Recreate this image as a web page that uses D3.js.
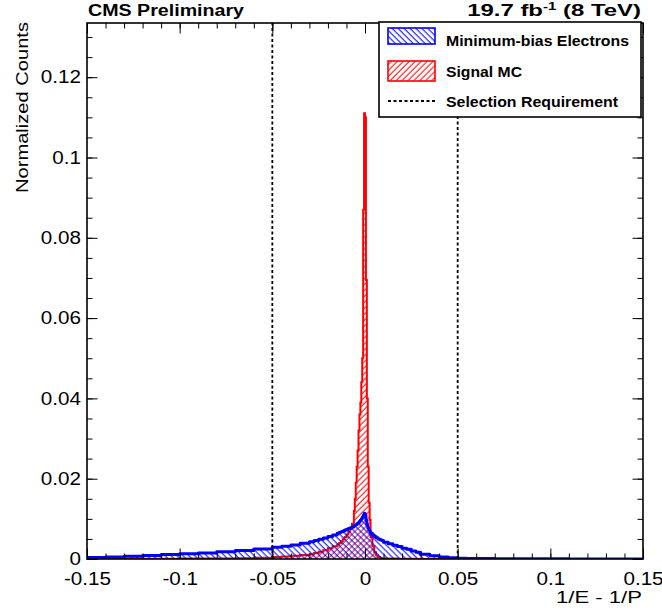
<!DOCTYPE html>
<html>
<head>
<meta charset="utf-8">
<script src="https://cdn.jsdelivr.net/npm/d3@7"></script>
<style>
  body { margin: 0; background: #fff; }
  text { font-family: "Liberation Sans", Arial, Helvetica, sans-serif; fill: #000; }
</style>
</head>
<body>
<svg id="chart" width="662" height="612"></svg>
<script>
// bin edges in 1/E - 1/P (finer bins near the peak)
var binEdges = [
  -0.15, -0.14, -0.13, -0.12, -0.11, -0.10, -0.09, -0.08, -0.07, -0.06,
  -0.05, -0.045, -0.04, -0.035,
  -0.03, -0.0275, -0.025, -0.0225, -0.02, -0.0175,
  -0.015, -0.014, -0.013, -0.012, -0.011, -0.010, -0.009, -0.008, -0.007,
  -0.006, -0.0055, -0.005, -0.0045, -0.004, -0.0035, -0.003, -0.0025, -0.002,
  -0.0015, -0.001, -0.0005, 0, 0.0005, 0.001, 0.0015, 0.002, 0.0025,
  0.003, 0.004, 0.005, 0.006, 0.007, 0.008, 0.009,
  0.010, 0.0125, 0.015, 0.0175, 0.020, 0.0225, 0.025, 0.0275,
  0.03, 0.035, 0.04, 0.045, 0.05, 0.055,
  0.06, 0.07, 0.08, 0.09, 0.10, 0.11, 0.12, 0.13, 0.14, 0.15
];

// Minimum-bias Electrons (normalized counts per bin)
var minBiasValues = [
  0.0004, 0.0005, 0.0007, 0.0009, 0.0011, 0.0013, 0.0015, 0.0018, 0.0021, 0.0025,
  0.0029, 0.0032, 0.0035, 0.0039,
  0.0043, 0.0046, 0.0049, 0.0052, 0.0056, 0.0060,
  0.0064, 0.0066, 0.0068, 0.0070, 0.0072, 0.0074, 0.0076, 0.0078, 0.0080,
  0.0083, 0.0084, 0.0085, 0.0087, 0.0089, 0.0091, 0.0094, 0.0097, 0.0100,
  0.0104, 0.0109, 0.0114, 0.0110, 0.0096, 0.0085, 0.0078, 0.0073, 0.0069,
  0.0064, 0.0060, 0.0056, 0.0053, 0.0050, 0.0048, 0.0046,
  0.0042, 0.0038, 0.0034, 0.0031, 0.0027, 0.0024, 0.0020, 0.0017,
  0.0012, 0.0008, 0.0005, 0.0003, 0.0002, 0.00015,
  0.0001, 0.00008, 0.00006, 0.00005, 0.00004, 0.00003, 0.00003, 0.00002, 0.00002
];

// Signal MC
var signalValues = [
  0.00005, 0.00005, 0.00006, 0.00007, 0.00008, 0.0001, 0.00012, 0.00015, 0.0002, 0.0003,
  0.0005, 0.0006, 0.0008, 0.0010,
  0.0012, 0.0015, 0.0018, 0.0022, 0.0027, 0.0032,
  0.0036, 0.0040, 0.0044, 0.0049, 0.0055, 0.0061, 0.0068, 0.0076, 0.0088,
  0.0120, 0.0150, 0.0190, 0.0230, 0.0270, 0.0320, 0.0360, 0.0390, 0.0440,
  0.0500, 0.0870, 0.1110, 0.1100, 0.0695, 0.0400, 0.0230, 0.0140, 0.0097,
  0.0055, 0.0032, 0.0017, 0.0009, 0.0005, 0.0003, 0.0002,
  0.00015, 0.0001, 0.0001, 0.00008, 0.00006, 0.00005, 0.00004, 0.00003,
  0.00003, 0.00003, 0.00002, 0.00002, 0.00002, 0.00002,
  0.00001, 0.00001, 0.00001, 0.00001, 0.00001, 0.00001, 0.00001, 0.00001, 0.00001
];

var xTicks = [-0.15, -0.1, -0.05, 0, 0.05, 0.1, 0.15];
var yTicks = [0, 0.02, 0.04, 0.06, 0.08, 0.1, 0.12];
var cutValues = [-0.05, 0.05];
var legendLabels = ["Minimum-bias Electrons", "Signal MC", "Selection Requirement"];

var frame = { left: 87, right: 643, top: 23, bottom: 559 };

var svg = d3.select("#chart");

var x = d3.scaleLinear().domain([-0.15, 0.15]).range([frame.left, frame.right]);
var y = d3.scaleLinear().domain([0, 0.1335]).range([frame.bottom, frame.top]);

var defs = svg.append("defs");

function hatch(id, color, angle) {
    var p = defs.append("pattern")
        .attr("id", id)
        .attr("patternUnits", "userSpaceOnUse")
        .attr("width", 4.2)
        .attr("height", 10)
        .attr("patternTransform", "rotate(" + angle + ")");
    p.append("line")
        .attr("x1", 1).attr("x2", 1)
        .attr("y1", -1).attr("y2", 11)
        .attr("stroke", color)
        .attr("stroke-width", 1);
}
hatch("hatchBlue", "#0000ff", -45);
hatch("hatchRed", "#ff0000", 45);

defs.append("clipPath").attr("id", "frameClip")
    .append("rect")
    .attr("x", frame.left).attr("y", frame.top)
    .attr("width", frame.right - frame.left)
    .attr("height", frame.bottom - frame.top);

function stepPath(values) {
    var pts = [[binEdges[0], 0]];
    values.forEach(function (v, i) {
        pts.push([binEdges[i], v]);
        pts.push([binEdges[i + 1], v]);
    });
    pts.push([binEdges[binEdges.length - 1], 0]);
    return d3.line().x(d => x(d[0])).y(d => y(d[1]))(pts);
}

var plot = svg.append("g").attr("clip-path", "url(#frameClip)");

plot.append("path")
    .attr("d", stepPath(signalValues))
    .attr("fill", "url(#hatchRed)")
    .attr("stroke", "#ff0000")
    .attr("stroke-width", 2)
    .attr("stroke-linejoin", "miter");

plot.append("path")
    .attr("d", stepPath(minBiasValues))
    .attr("fill", "url(#hatchBlue)")
    .attr("stroke", "#0000ff")
    .attr("stroke-width", 3)
    .attr("stroke-linejoin", "round");

// selection requirement lines
plot.selectAll(".cut")
    .data(cutValues)
    .enter().append("line")
    .attr("class", "cut")
    .attr("x1", d => x(d)).attr("x2", d => x(d))
    .attr("y1", y(0)).attr("y2", y(0.1335))
    .attr("stroke", "#000")
    .attr("stroke-width", 1.8)
    .attr("stroke-dasharray", "3,2.5");

// axes (ROOT style: ticks inside the frame)
var minorX = d3.range(-15, 16).map(d => d / 100);
var minorY = d3.range(0, 27).map(d => d * 0.005);

function styleAxis(g) {
    g.select(".domain").remove();
    g.selectAll(".tick line").attr("stroke", "#000").attr("stroke-width", 1);
}

svg.append("g")
    .attr("transform", `translate(0,${frame.bottom})`)
    .call(d3.axisBottom(x).tickValues(minorX).tickSize(-5.5).tickFormat(""))
    .call(styleAxis);
svg.append("g")
    .attr("transform", `translate(0,${frame.top})`)
    .call(d3.axisTop(x).tickValues(minorX).tickSize(-5.5).tickFormat(""))
    .call(styleAxis);
svg.append("g")
    .attr("transform", `translate(0,${frame.top})`)
    .call(d3.axisTop(x).tickValues(xTicks).tickSize(-10.5).tickFormat(""))
    .call(styleAxis);

var xAxis = svg.append("g")
    .attr("transform", `translate(0,${frame.bottom})`)
    .call(d3.axisBottom(x).tickValues(xTicks).tickSize(-10.5).tickPadding(7).tickFormat(d => String(d)))
    .call(styleAxis);
xAxis.selectAll("text")
    .attr("font-size", 17.5)
    .attr("y", 25.5)
    .attr("dy", 0)
    .style("font-family", "Liberation Sans, Arial, sans-serif");

svg.append("g")
    .attr("transform", `translate(${frame.left},0)`)
    .call(d3.axisLeft(y).tickValues(minorY).tickSize(-5.5).tickFormat(""))
    .call(styleAxis);
svg.append("g")
    .attr("transform", `translate(${frame.right},0)`)
    .call(d3.axisRight(y).tickValues(minorY).tickSize(-5.5).tickFormat(""))
    .call(styleAxis);
svg.append("g")
    .attr("transform", `translate(${frame.right},0)`)
    .call(d3.axisRight(y).tickValues(yTicks).tickSize(-10.5).tickFormat(""))
    .call(styleAxis);

var yAxis = svg.append("g")
    .attr("transform", `translate(${frame.left},0)`)
    .call(d3.axisLeft(y).tickValues(yTicks).tickSize(-10.5).tickPadding(6).tickFormat(d => String(d)))
    .call(styleAxis);
yAxis.selectAll("text")
    .attr("font-size", 17.5)
    .style("font-family", "Liberation Sans, Arial, sans-serif");

// stretch tick labels a bit to match the wide ROOT glyphs
svg.selectAll(".tick text").each(function () {
    var t = d3.select(this);
    if (this.textContent) {
        t.attr("textLength", this.getComputedTextLength() * 1.18)
         .attr("lengthAdjust", "spacingAndGlyphs");
    }
});

// frame
svg.append("rect")
    .attr("x", frame.left).attr("y", frame.top)
    .attr("width", frame.right - frame.left)
    .attr("height", frame.bottom - frame.top)
    .attr("fill", "none")
    .attr("stroke", "#000")
    .attr("stroke-width", 1.6);

// titles
svg.append("text")
    .attr("x", 88).attr("y", 16)
    .attr("font-size", 16).attr("font-weight", "bold")
    .attr("textLength", 156).attr("lengthAdjust", "spacingAndGlyphs")
    .text("CMS Preliminary");

var lumiG = svg.append("g");
var lumi = lumiG.append("text")
    .attr("x", 0).attr("y", 0)
    .attr("text-anchor", "end")
    .attr("font-size", 16).attr("font-weight", "bold");
lumi.append("tspan").text("19.7 fb");
lumi.append("tspan").attr("font-size", 10).attr("dy", -6).text("-1");
lumi.append("tspan").attr("dy", 6).text(" (8 TeV)");
var lumiW = lumi.node().getBBox().width;
lumiG.attr("transform", `translate(641,16) scale(${174 / lumiW},1)`);

svg.append("text")
    .attr("transform", "translate(28,22) rotate(-90)")
    .attr("text-anchor", "end")
    .attr("font-size", 17)
    .attr("textLength", 171).attr("lengthAdjust", "spacingAndGlyphs")
    .text("Normalized Counts");

svg.append("text")
    .attr("x", 642).attr("y", 603)
    .attr("text-anchor", "end")
    .attr("font-size", 16.5)
    .attr("textLength", 86).attr("lengthAdjust", "spacingAndGlyphs")
    .text("1/E - 1/P");

// legend
var legend = svg.append("g").attr("class", "legend");
legend.append("rect")
    .attr("x", 379).attr("y", 22)
    .attr("width", 262).attr("height", 95)
    .attr("fill", "#fff")
    .attr("stroke", "#000")
    .attr("stroke-width", 1.6);

legend.append("rect")
    .attr("x", 388).attr("y", 28).attr("width", 47).attr("height", 16)
    .attr("fill", "url(#hatchBlue)").attr("stroke", "#0000ff").attr("stroke-width", 1.6);
legend.append("rect")
    .attr("x", 388).attr("y", 61).attr("width", 47).attr("height", 20)
    .attr("fill", "url(#hatchRed)").attr("stroke", "#ff0000").attr("stroke-width", 1.6);
legend.append("line")
    .attr("x1", 388).attr("x2", 435).attr("y1", 101).attr("y2", 101)
    .attr("stroke", "#000").attr("stroke-width", 1.8).attr("stroke-dasharray", "3,2.5");

var legendY = [46, 76.5, 106.5];
var legendW = [183, 76, 172];
legend.selectAll(".ltext")
    .data(legendLabels)
    .enter().append("text")
    .attr("class", "ltext")
    .attr("x", 446)
    .attr("y", (d, i) => legendY[i])
    .attr("font-size", 15.5)
    .attr("font-weight", "bold")
    .attr("textLength", (d, i) => legendW[i])
    .attr("lengthAdjust", "spacingAndGlyphs")
    .text(d => d);
</script>
</body>
</html>
